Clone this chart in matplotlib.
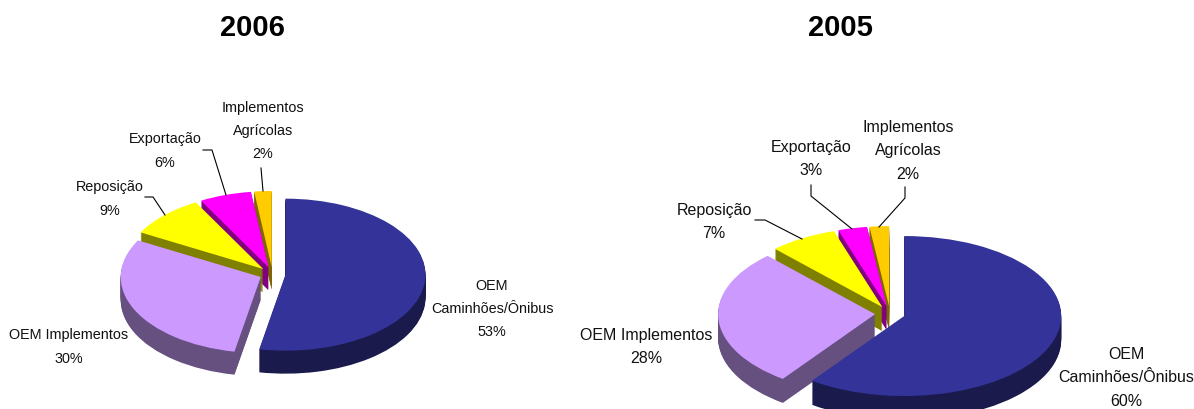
import matplotlib
matplotlib.use('Agg')
import matplotlib.pyplot as plt

plt.rcParams['font.family'] = ['Liberation Sans', 'DejaVu Sans']

W, H = 1194, 410

# Data
categories = ['OEM\nCaminhões/Ônibus', 'OEM Implementos', 'Reposição', 'Exportação',
              'Implementos\nAgrícolas']
values_2006 = [53, 30, 9, 6, 2]
values_2005 = [60, 28, 7, 3, 2]

top_colors = ['#333399', '#CC99FF', '#FFFF00', '#FF00FF', '#FFCC00']
side_colors = ['#1A1A4D', '#66507F', '#808000', '#800080', '#806600']

# label centres and leaders, in pixels
label_pos_2006 = [(492, 309), (69, 347), (110, 199), (165, 151), (263, 131)]
label_pos_2005 = [(1126, 378), (646, 347), (714, 222), (811, 159), (908, 151)]
leaders_2006 = [[(145, 198), (153, 198), (165, 216)],
                [(203, 151), (212, 151), (226, 196)],
                [(261, 169), (263, 192)]]
leaders_2005 = [[(755, 221), (765, 221), (802, 240)],
                [(811, 186), (811, 197), (852, 230)],
                [(905, 188), (905, 199), (879, 228)]]

fig = plt.figure(figsize=(W / 100, H / 100), dpi=100)


def draw_pie(values, cx, cy, rx, ry, depth, explode):
    # one full-figure axes per pie, squashed so that the circle becomes an ellipse
    ax = fig.add_axes([0, 0, 1, 1])
    offsets = [explode] * len(values)
    # stack of darker pies gives the sides, the last one is the top face
    for k in list(range(depth, 0, -1)) + [0]:
        colors = side_colors if k > 0 else top_colors
        ax.pie(values, colors=colors, startangle=90, counterclock=False, explode=offsets,
               center=(0, -k / ry), radius=1, wedgeprops={'linewidth': 0}, normalize=True)
    ax.set_aspect('auto')
    ax.set_xlim(-cx / rx, (W - cx) / rx)
    ax.set_ylim((cy - H) / ry, cy / ry)
    ax.patch.set_alpha(0)
    ax.axis('off')


draw_pie(values_2006, 272.5, 275, 140, 76, 23, 0.093)
draw_pie(values_2005, 890, 314.7, 157, 80, 24, 0.095)

# overlay in pixel coordinates for the texts and the leader lines
ov = fig.add_axes([0, 0, 1, 1])
ov.set_xlim(0, W)
ov.set_ylim(H, 0)
ov.patch.set_alpha(0)
ov.axis('off')

ov.text(252, 27.5, '2006', fontsize=21, fontweight='bold', ha='center', va='center')
ov.text(840, 27.5, '2005', fontsize=21, fontweight='bold', ha='center', va='center')

for name, v, pos in zip(categories, values_2006, label_pos_2006):
    ov.text(pos[0], pos[1], f'{name}\n{v}%', fontsize=10.4, ha='center', va='center',
            linespacing=1.82, color='#111111')
for name, v, pos in zip(categories, values_2005, label_pos_2005):
    ov.text(pos[0], pos[1], f'{name}\n{v}%', fontsize=11.5, ha='center', va='center',
            linespacing=1.7, color='#111111')

for pts in leaders_2006 + leaders_2005:
    ov.plot([p[0] for p in pts], [p[1] for p in pts], color='black', lw=0.8)

fig.savefig('out.png', dpi=100)
